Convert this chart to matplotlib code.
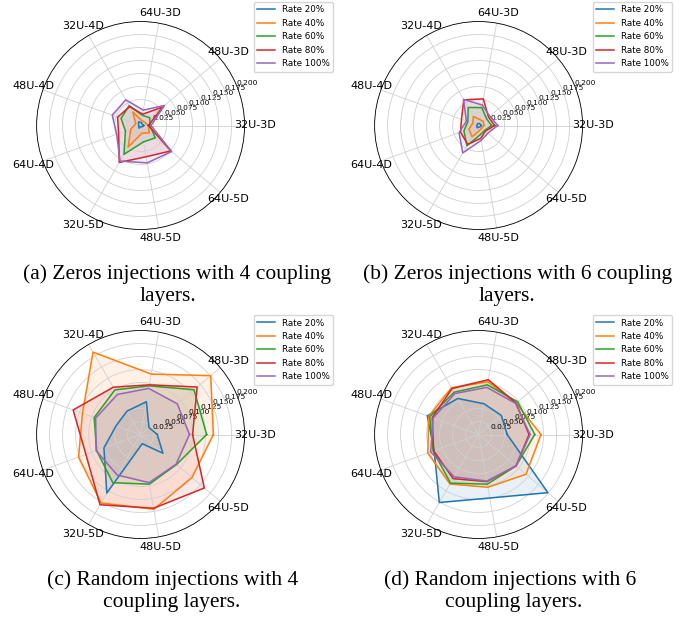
import numpy as np
import matplotlib.pyplot as plt

categories = ["32U-3D", "48U-3D", "64U-3D", "32U-4D", "48U-4D",
              "64U-4D", "32U-5D", "48U-5D", "64U-5D"]
rate_labels = ["Rate 20%", "Rate 40%", "Rate 60%", "Rate 80%", "Rate 100%"]
r_ticks = [0.025, 0.050, 0.075, 0.100, 0.125, 0.150, 0.175, 0.200]

# one row per rate (20% .. 100%), one column per category
zeros_4 = [
    [0.006, 0.004, 0.006, 0.008, 0.004, 0.004, 0.006, 0.002, 0.004],
    [0.015, 0.010, 0.010, 0.030, 0.010, 0.020, 0.048, 0.015, 0.022],
    [0.018, 0.023, 0.020, 0.044, 0.040, 0.031, 0.064, 0.032, 0.037],
    [0.015, 0.055, 0.022, 0.042, 0.047, 0.045, 0.082, 0.061, 0.076],
    [0.020, 0.060, 0.030, 0.057, 0.058, 0.049, 0.079, 0.073, 0.078],
]
zeros_6 = [
    [0.005, 0.004, 0.004, 0.004, 0.003, 0.004, 0.005, 0.003, 0.004],
    [0.010, 0.012, 0.012, 0.020, 0.012, 0.020, 0.025, 0.010, 0.008],
    [0.025, 0.020, 0.035, 0.040, 0.022, 0.030, 0.045, 0.018, 0.015],
    [0.031, 0.025, 0.052, 0.057, 0.035, 0.037, 0.042, 0.025, 0.017],
    [0.037, 0.028, 0.040, 0.058, 0.025, 0.040, 0.061, 0.029, 0.023],
]
random_4 = [
    [0.032, 0.021, 0.064, 0.052, 0.050, 0.075, 0.130, 0.018, 0.056],
    [0.140, 0.176, 0.118, 0.183, 0.119, 0.127, 0.152, 0.146, 0.129],
    [0.127, 0.134, 0.095, 0.099, 0.095, 0.090, 0.107, 0.097, 0.090],
    [0.100, 0.142, 0.097, 0.105, 0.138, 0.112, 0.156, 0.144, 0.160],
    [0.094, 0.092, 0.090, 0.089, 0.092, 0.091, 0.090, 0.094, 0.089],
]
random_6 = [
    [0.055, 0.057, 0.060, 0.080, 0.105, 0.091, 0.151, 0.124, 0.174],
    [0.120, 0.094, 0.103, 0.104, 0.102, 0.104, 0.110, 0.103, 0.119],
    [0.108, 0.098, 0.097, 0.094, 0.100, 0.093, 0.108, 0.097, 0.094],
    [0.097, 0.094, 0.107, 0.102, 0.095, 0.092, 0.098, 0.092, 0.094],
    [0.099, 0.093, 0.092, 0.091, 0.093, 0.098, 0.094, 0.091, 0.094],
]

captions = [
    ("(a) Zeros injections with 4 coupling", "layers."),
    ("(b) Zeros injections with 6 coupling", "layers."),
    ("(c) Random injections with 4", "coupling layers."),
    ("(d) Random injections with 6", "coupling layers."),
]

W, H = 692, 620
fig = plt.figure(figsize=(W / 100, H / 100), dpi=100)

# panel centre (px), legend top-right (px), caption centres
panels = [
    (zeros_4, 140.6, 125.5, (333, 2), (177, 168, 274, 297)),
    (zeros_6, 478.6, 125.5, (672, 2), (518, 507, 274, 297)),
    (random_4, 140.6, 434.5, (333, 315), (173, 172, 580, 603)),
    (random_6, 478.6, 434.5, (672, 315), (510, 514, 580, 603)),
]
R = 104

angles = np.linspace(0, 2 * np.pi, len(categories), endpoint=False)
closed = np.append(angles, angles[0])

for (vals, cx, cy, leg_xy, cap), (line1, line2) in zip(panels, captions):
    ax = fig.add_axes([(cx - R) / W, 1 - (cy + R) / H, 2 * R / W, 2 * R / H],
                      projection="polar")
    for i, (row, lab) in enumerate(zip(vals, rate_labels)):
        data = np.append(row, row[0])
        ax.plot(closed, data, color=f"C{i}", lw=1.1, label=lab)
        ax.fill(closed, data, color=f"C{i}", alpha=0.1)
    ax.set_xticks(angles)
    ax.set_xticklabels([])
    ax.set_ylim(0, 0.2)
    # category names centred just outside the rim, old-matplotlib style
    for a, cat in zip(angles, categories):
        ax.text(a, 0.22, cat, ha="center", va="center", fontsize=8)
    ax.set_yticks(r_ticks)
    ax.set_yticklabels([f"{t:.3f}" for t in r_ticks], fontsize=5.4)
    ax.grid(color="#d0d0d0", lw=0.6)
    ax.spines["polar"].set_linewidth(0.6)
    ax.legend(loc="upper right", fontsize=6.3, labelspacing=0.5,
              bbox_to_anchor=(leg_xy[0] / W, 1 - leg_xy[1] / H),
              bbox_transform=fig.transFigure, borderaxespad=0)
    fig.text(cap[0] / W, 1 - cap[2] / H, line1, ha="center", va="center",
             family="Liberation Serif", fontsize=15.5)
    fig.text(cap[1] / W, 1 - cap[3] / H, line2, ha="center", va="center",
             family="Liberation Serif", fontsize=15.5)

fig.savefig("out.png", dpi=100)
